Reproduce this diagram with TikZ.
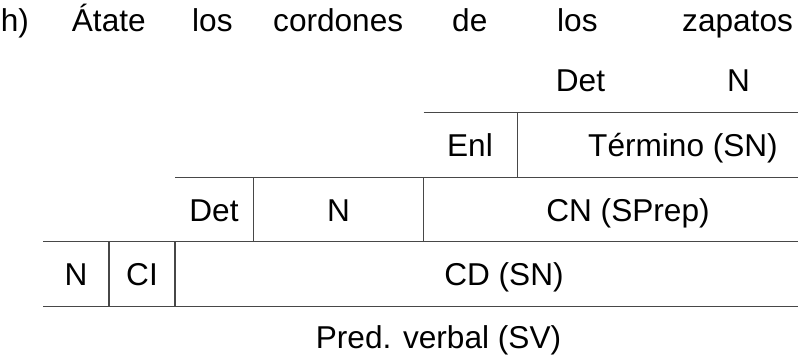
\documentclass[tikz,border=0pt]{standalone}
\usepackage{fontspec}
\setmainfont{Liberation Sans}
\begin{document}
\tikzset{
  lbl/.style={anchor=base, inner sep=0pt, font=\fontsize{31.6}{38}\selectfont},
  word/.style={lbl, anchor=base west},
  rule/.style={line width=1.2pt, draw=black!72}
}
\begin{tikzpicture}[x=1pt,y=-1pt]
\useasboundingbox (0,0) rectangle (798,356);
% sentence
\node[word] (w1) at (0.6,31.7) {h)};
\node[word] (w2) at (71.7,31.7) {Átate};
\node[word] (w3) at (192,31.7) {los};
\node[word] (w4) at (273,31.7) {cordones};
\node[word] (w5) at (452,31.7) {de};
\node[word] (w6) at (557,31.7) {los};
\node[word] (w7) at (682,31.7) {zapatos};
% row 0
\node[lbl] (det0) at (580.5,91.7) {Det};
\node[lbl] (n0) at (738.5,91.7) {N};
% row 1
\node[lbl] (enl) at (470,156) {Enl};
\node[lbl] (term) at (683,156) {Término (SN)};
% row 2
\node[lbl] (det2) at (214,221.7) {Det};
\node[lbl] (n2) at (338.5,221.7) {N};
\node[lbl] (cn) at (628,221.7) {CN (SPrep)};
% row 3
\node[lbl] (n3) at (76,285.7) {N};
\node[lbl] (ci) at (142,285.7) {CI};
\node[lbl] (cd) at (504,285.7) {CD (SN)};
% row 4
\node[lbl] (pred) at (438.5,348) {Pred. verbal (SV)};
% rules
\draw[rule] (423.5,112.5) -- (798,112.5);
\draw[rule] (517.3,112.5) -- (517.3,177.3);
\draw[rule] (175,177.3) -- (798,177.3);
\draw[rule] (253.3,177.3) -- (253.3,241.7);
\draw[rule] (423.5,177.3) -- (423.5,241.7);
\draw[rule] (43.3,241.7) -- (798,241.7);
\draw[rule] (109,241.7) -- (109,306.7);
\draw[rule] (175,241.7) -- (175,306.7);
\draw[rule] (43.3,306.7) -- (798,306.7);
\end{tikzpicture}
\end{document}
